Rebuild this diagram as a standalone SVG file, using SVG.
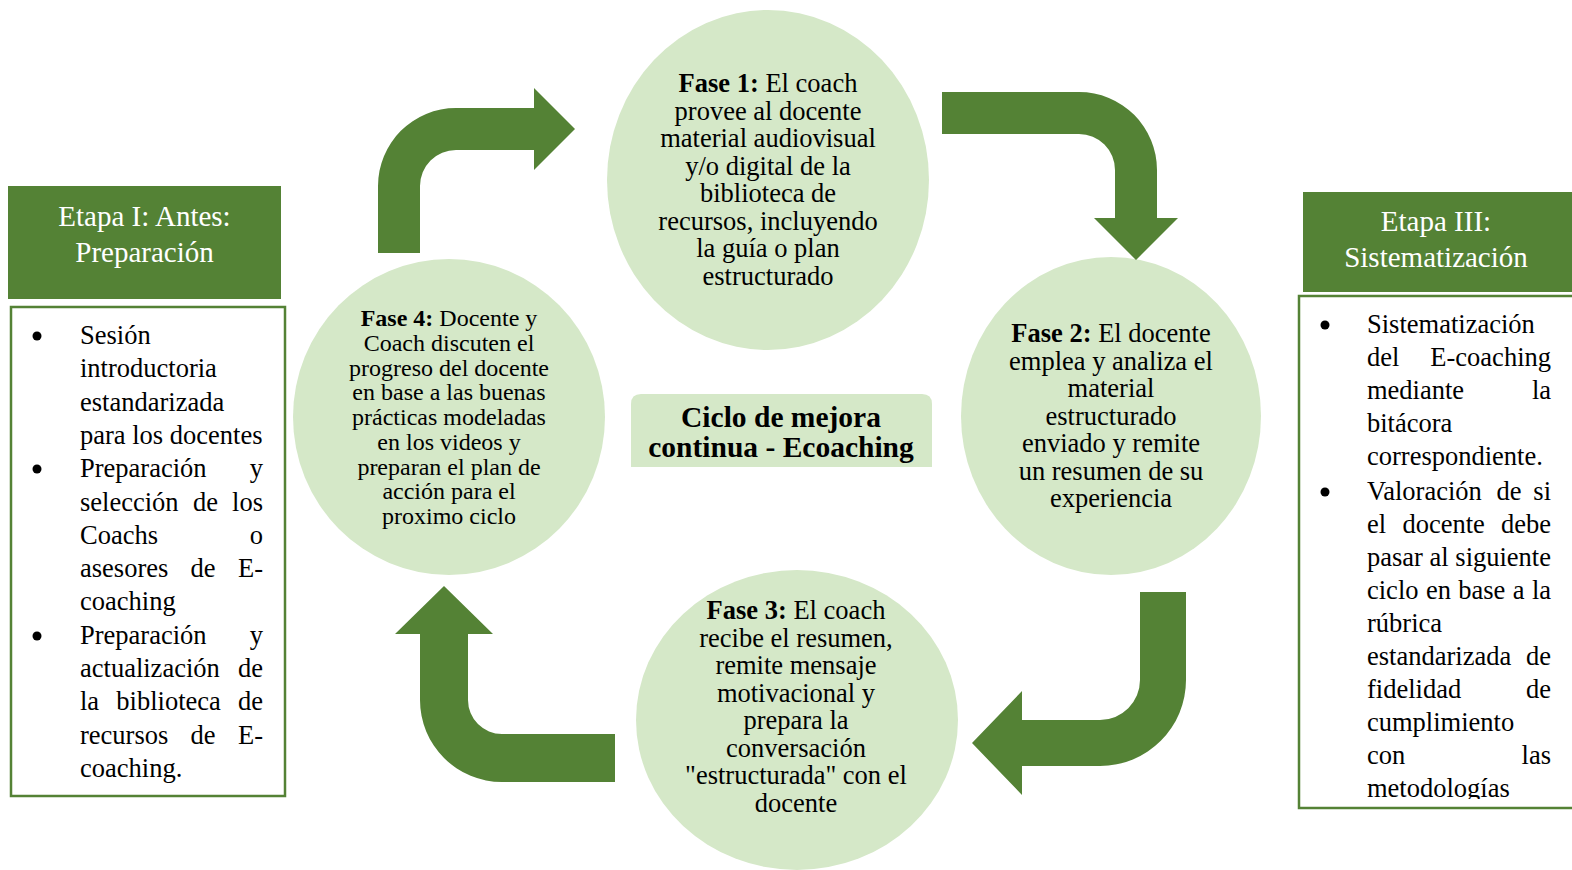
<svg xmlns="http://www.w3.org/2000/svg" width="1572" height="870" viewBox="0 0 1572 870">
<style>
.hdr{fill:#548235}
.box{fill:#ffffff;stroke:#548235;stroke-width:2.5}
.ht{font-family:"Liberation Serif","Times New Roman",serif;font-size:29px;fill:#ffffff;text-anchor:middle}
.bt{font-family:"Liberation Serif","Times New Roman",serif;font-size:26.5px;fill:#000}
.e{text-anchor:end}
.circ{fill:#d5e8c8}
.ct{font-family:"Liberation Serif","Times New Roman",serif;font-size:26.5px;fill:#000;text-anchor:middle}
.ct4{font-family:"Liberation Serif","Times New Roman",serif;font-size:24px;fill:#000;text-anchor:middle}
.b{font-weight:bold}
.lbl{font-family:"Liberation Serif","Times New Roman",serif;font-size:29.5px;font-weight:bold;fill:#000;text-anchor:middle}
.arr{fill:#548235}
.dot{fill:#000}
</style>
<defs>
<clipPath id="clipR"><rect x="1299" y="296" width="280" height="503"/></clipPath>
</defs>
<rect width="1572" height="870" fill="#ffffff"/>

<g id="etapa1-header">
<rect class="hdr" x="8" y="186" width="273" height="113"/>
<text class="ht" x="144.5" y="226">Etapa I: Antes:</text>
<text class="ht" x="144.5" y="262">Preparación</text>
</g>

<g id="etapa1-list">
<rect class="box" x="11" y="307" width="274" height="489"/>
<circle class="dot" cx="37" cy="336" r="4.5"/>
<circle class="dot" cx="37" cy="469" r="4.5"/>
<circle class="dot" cx="37" cy="636" r="4.5"/>
<text class="bt" x="80" y="344">Sesión</text>
<text class="bt" x="80" y="377.3">introductoria</text>
<text class="bt" x="80" y="410.6">estandarizada</text>
<text class="bt" x="80" y="443.9">para los docentes</text>
<text class="bt" x="80" y="477.2">Preparación</text><text class="bt e" x="263" y="477.2">y</text>
<text class="bt" x="80" y="510.5">selección</text><text class="bt" x="192.9" y="510.5">de</text><text class="bt e" x="263" y="510.5">los</text>
<text class="bt" x="80" y="543.8">Coachs</text><text class="bt e" x="263" y="543.8">o</text>
<text class="bt" x="80" y="577.1">asesores</text><text class="bt" x="190.6" y="577.1">de</text><text class="bt e" x="263" y="577.1">E-</text>
<text class="bt" x="80" y="610.4">coaching</text>
<text class="bt" x="80" y="643.7">Preparación</text><text class="bt e" x="263" y="643.7">y</text>
<text class="bt" x="80" y="677">actualización</text><text class="bt e" x="263" y="677">de</text>
<text class="bt" x="80" y="710.3">la</text><text class="bt" x="116.3" y="710.3">biblioteca</text><text class="bt e" x="263" y="710.3">de</text>
<text class="bt" x="80" y="743.6">recursos</text><text class="bt" x="190.6" y="743.6">de</text><text class="bt e" x="263" y="743.6">E-</text>
<text class="bt" x="80" y="776.9">coaching.</text>
</g>

<g id="etapa3-header">
<rect class="hdr" x="1303" y="192" width="272" height="100"/>
<text class="ht" x="1436" y="231">Etapa III:</text>
<text class="ht" x="1436" y="267">Sistematización</text>
</g>

<g id="etapa3-list">
<rect class="box" x="1299" y="296" width="280" height="512"/>
<g clip-path="url(#clipR)">
<circle class="dot" cx="1325" cy="325" r="4.5"/>
<circle class="dot" cx="1325" cy="492" r="4.5"/>
<text class="bt" x="1367" y="333">Sistematización</text>
<text class="bt" x="1367" y="366">del</text><text class="bt e" x="1551" y="366">E-coaching</text>
<text class="bt" x="1367" y="399">mediante</text><text class="bt e" x="1551" y="399">la</text>
<text class="bt" x="1367" y="432">bitácora</text>
<text class="bt" x="1367" y="465">correspondiente.</text>
<text class="bt" x="1367" y="500">Valoración</text><text class="bt" x="1496.5" y="500">de</text><text class="bt e" x="1551" y="500">si</text>
<text class="bt" x="1367" y="533">el</text><text class="bt" x="1402.4" y="533">docente</text><text class="bt e" x="1551" y="533">debe</text>
<text class="bt" x="1367" y="566">pasar</text><text class="bt" x="1429.6" y="566">al</text><text class="bt e" x="1551" y="566">siguiente</text>
<text class="bt" x="1367" y="599">ciclo</text><text class="bt" x="1425.9" y="599">en</text><text class="bt" x="1458.3" y="599">base</text><text class="bt" x="1512.8" y="599">a</text><text class="bt e" x="1551" y="599">la</text>
<text class="bt" x="1367" y="632">rúbrica</text>
<text class="bt" x="1367" y="665">estandarizada</text><text class="bt e" x="1551" y="665">de</text>
<text class="bt" x="1367" y="698">fidelidad</text><text class="bt e" x="1551" y="698">de</text>
<text class="bt" x="1367" y="731">cumplimiento</text>
<text class="bt" x="1367" y="764">con</text><text class="bt e" x="1551" y="764">las</text>
<text class="bt" x="1367" y="797">metodologías</text>
</g>
</g>

<g id="fase1">
<ellipse class="circ" cx="768" cy="180" rx="161" ry="170"/>
<text class="ct" x="768" y="92"><tspan class="b">Fase 1:</tspan> El coach</text>
<text class="ct" x="768" y="119.5">provee al docente</text>
<text class="ct" x="768" y="147">material audiovisual</text>
<text class="ct" x="768" y="174.5">y/o digital de la</text>
<text class="ct" x="768" y="202">biblioteca de</text>
<text class="ct" x="768" y="229.5">recursos, incluyendo</text>
<text class="ct" x="768" y="257">la guía o plan</text>
<text class="ct" x="768" y="284.5">estructurado</text>
</g>

<g id="fase2">
<ellipse class="circ" cx="1111" cy="416" rx="150" ry="159"/>
<text class="ct" x="1111" y="342"><tspan class="b">Fase 2:</tspan> El docente</text>
<text class="ct" x="1111" y="369.5">emplea y analiza el</text>
<text class="ct" x="1111" y="397">material</text>
<text class="ct" x="1111" y="424.5">estructurado</text>
<text class="ct" x="1111" y="452">enviado y remite</text>
<text class="ct" x="1111" y="479.5">un resumen de su</text>
<text class="ct" x="1111" y="507">experiencia</text>
</g>

<g id="fase3">
<ellipse class="circ" cx="797" cy="720" rx="161" ry="150"/>
<text class="ct" x="796" y="619"><tspan class="b">Fase 3:</tspan> El coach</text>
<text class="ct" x="796" y="646.5">recibe el resumen,</text>
<text class="ct" x="796" y="674">remite mensaje</text>
<text class="ct" x="796" y="701.5">motivacional y</text>
<text class="ct" x="796" y="729">prepara la</text>
<text class="ct" x="796" y="756.5">conversación</text>
<text class="ct" x="796" y="784">"estructurada" con el</text>
<text class="ct" x="796" y="811.5">docente</text>
</g>

<g id="fase4">
<ellipse class="circ" cx="449" cy="417" rx="156" ry="158"/>
<text class="ct4" x="449" y="326"><tspan class="b">Fase 4:</tspan> Docente y</text>
<text class="ct4" x="449" y="350.75">Coach discuten el</text>
<text class="ct4" x="449" y="375.5">progreso del docente</text>
<text class="ct4" x="449" y="400.25">en base a las buenas</text>
<text class="ct4" x="449" y="425">prácticas modeladas</text>
<text class="ct4" x="449" y="449.75">en los videos y</text>
<text class="ct4" x="449" y="474.5">preparan el plan de</text>
<text class="ct4" x="449" y="499.25">acción para el</text>
<text class="ct4" x="449" y="524">proximo ciclo</text>
</g>

<g id="centro">
<path class="circ" d="M631,467 L631,404 Q631,394 641,394 L922,394 Q932,394 932,404 L932,467 Z"/>
<text class="lbl" x="781" y="427">Ciclo de mejora</text>
<text class="lbl" x="781" y="457">continua - Ecoaching</text>
</g>

<g id="connectors">
<path class="arr" d="M378,253 L378,186 A78,78 0 0 1 456,108 L534,108 L534,88 L575,129 L534,170 L534,150 L456,150 A36,36 0 0 0 420,186 L420,253 Z"/>
<path class="arr" d="M942,92 L1079,92 A78,78 0 0 1 1157,170 L1157,218 L1178,218 L1136,260 L1094,218 L1115,218 L1115,170 A36,36 0 0 0 1079,134 L942,134 Z"/>
<path class="arr" d="M1140,592 L1186,592 L1186,680 A86,86 0 0 1 1100,766 L1022,766 L1022,795 L972,743 L1022,691 L1022,720 L1100,720 A40,40 0 0 0 1140,680 Z"/>
<path class="arr" d="M615,782 L502,782 A82,82 0 0 1 420,700 L420,634 L395,634 L444,586 L493,634 L468,634 L468,700 A34,34 0 0 0 502,734 L615,734 Z"/>
</g>
</svg>
